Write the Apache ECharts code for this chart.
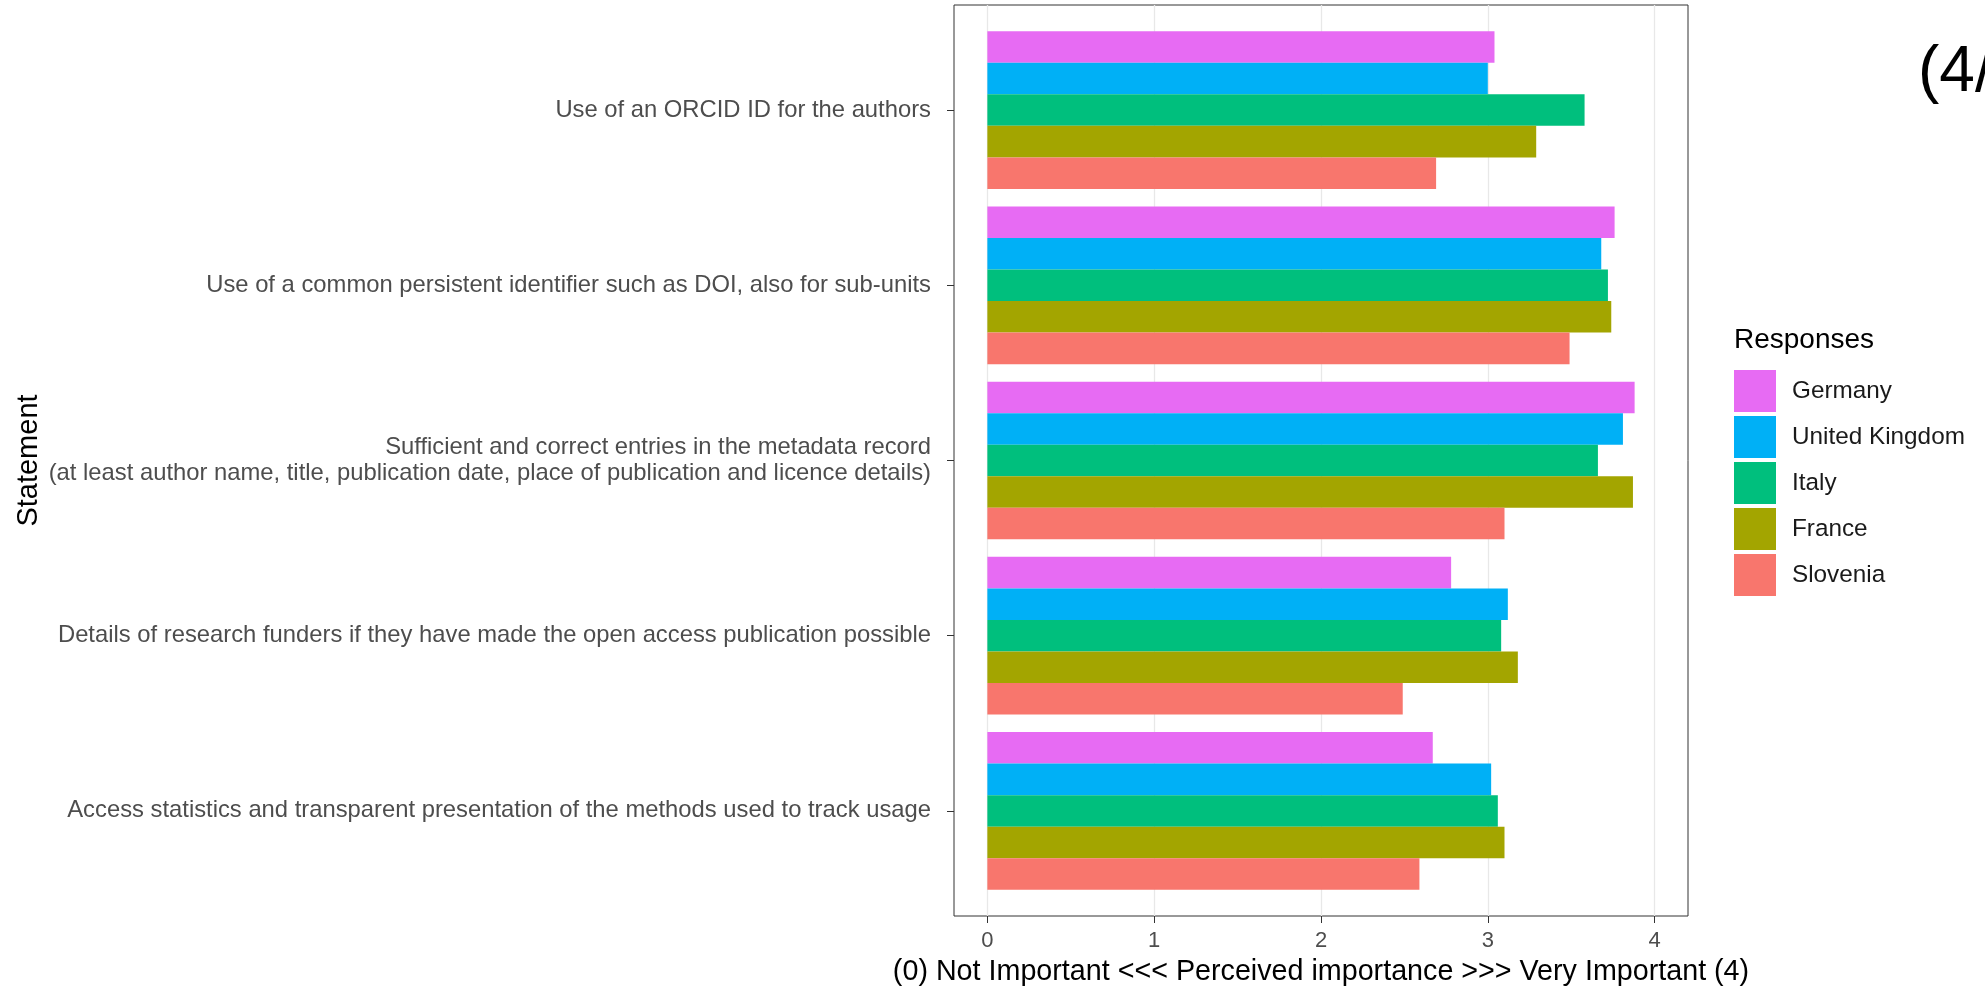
<!DOCTYPE html>
<html><head><meta charset="utf-8">
<script src="https://cdn.jsdelivr.net/npm/echarts@6/dist/echarts.min.js"></script>
<style>html,body{margin:0;padding:0;background:#fff}#c{width:1985px;height:991px}</style>
</head><body><div id="c"></div>
<script>
const statements = [
  'Use of an ORCID ID for the authors',
  'Use of a common persistent identifier such as DOI, also for sub-units',
  'Sufficient and correct entries in the metadata record\n(at least author name, title, publication date, place of publication and licence details)',
  'Details of research funders if they have made the open access publication possible',
  'Access statistics and transparent presentation of the methods used to track usage'
];
const countries = ['Germany', 'United Kingdom', 'Italy', 'France', 'Slovenia'];
const germany       = [3.04, 3.76, 3.88, 2.78, 2.67];
const unitedKingdom = [3.00, 3.68, 3.81, 3.12, 3.02];
const italy         = [3.58, 3.72, 3.66, 3.08, 3.06];
const france        = [3.29, 3.74, 3.87, 3.18, 3.10];
const slovenia      = [2.69, 3.49, 3.10, 2.49, 2.59];
const xTicks = [0, 1, 2, 3, 4];
const xTitle = '(0) Not Important <<< Perceived importance >>> Very Important (4)';
const yTitle = 'Statement';
const legendTitle = 'Responses';
const colors = ['#E76BF3', '#00B0F6', '#00BF7D', '#A3A500', '#F8766D'];

const values = [germany, unitedKingdom, italy, france, slovenia];
const FONT = '"Liberation Sans", Arial, Helvetica, sans-serif';

const chart = echarts.init(document.getElementById('c'), null, {renderer: 'canvas'});
chart.setOption({
  animation: false,
  backgroundColor: '#ffffff',
  textStyle: {fontFamily: FONT},
  title: [
    {text: legendTitle, left: 1734, top: 326, padding: 0,
     textStyle: {fontSize: 28, fontWeight: 'normal', color: '#000000', fontFamily: FONT}},
    {text: '(4/', left: 1918, top: 41, padding: 0,
     textStyle: {fontSize: 64, fontWeight: 'normal', color: '#000000', fontFamily: FONT}}
  ],
  legend: {
    orient: 'vertical', left: 1734, top: 370, padding: 0,
    itemWidth: 42, itemHeight: 42, itemGap: 4, icon: 'rect',
    selectedMode: false, data: countries,
    textStyle: {fontSize: 24.3, color: '#1a1a1a', fontFamily: FONT, padding: [0, 0, 0, 11]}
  },
  grid: [
    {left: 954, right: 297, top: 22.5, bottom: 92.5, outerBoundsMode: 'none', containLabel: false},
    {left: 954, right: 297, top: 5, bottom: 75, outerBoundsMode: 'none', containLabel: false,
     show: true, borderColor: '#333333', borderWidth: 1, backgroundColor: 'transparent'}
  ],
  xAxis: [
    {gridIndex: 0, type: 'value', min: -0.2, max: 4.2, show: false},
    {gridIndex: 1, type: 'value', min: -0.2, max: 4.2, position: 'bottom',
     axisLine: {show: false, onZero: false},
     axisTick: {show: true, customValues: xTicks, length: 7, lineStyle: {color: '#333333', width: 1}},
     axisLabel: {show: true, customValues: xTicks, margin: 14, fontSize: 22, color: '#4D4D4D', fontFamily: FONT},
     splitLine: {show: true, lineStyle: {color: '#E8E8E8', width: 1.3}},
     name: xTitle, nameLocation: 'middle', nameGap: 42,
     nameTextStyle: {fontSize: 28.7, color: '#000000', fontFamily: FONT}}
  ],
  yAxis: [
    {gridIndex: 0, type: 'category', data: statements, inverse: true,
     axisLine: {show: false, onZero: false},
     axisTick: {show: true, alignWithLabel: true, length: 7, lineStyle: {color: '#333333', width: 1}},
     axisLabel: {margin: 23, fontSize: 23.8, lineHeight: 26, color: '#4D4D4D', fontFamily: FONT, align: 'right'},
     splitLine: {show: false},
     name: yTitle, nameLocation: 'middle', nameRotate: 90, nameGap: 911,
     nameTextStyle: {fontSize: 29, color: '#000000', fontFamily: FONT}},
    {gridIndex: 1, type: 'value', min: 0, max: 1, show: false}
  ],
  series: countries.map((name, i) => ({
    name: name, type: 'bar', xAxisIndex: 0, yAxisIndex: 0,
    data: values[i], barGap: '0%', barCategoryGap: '10%',
    itemStyle: {color: colors[i]},
    emphasis: {disabled: true}, silent: true
  }))
});
</script></body></html>
